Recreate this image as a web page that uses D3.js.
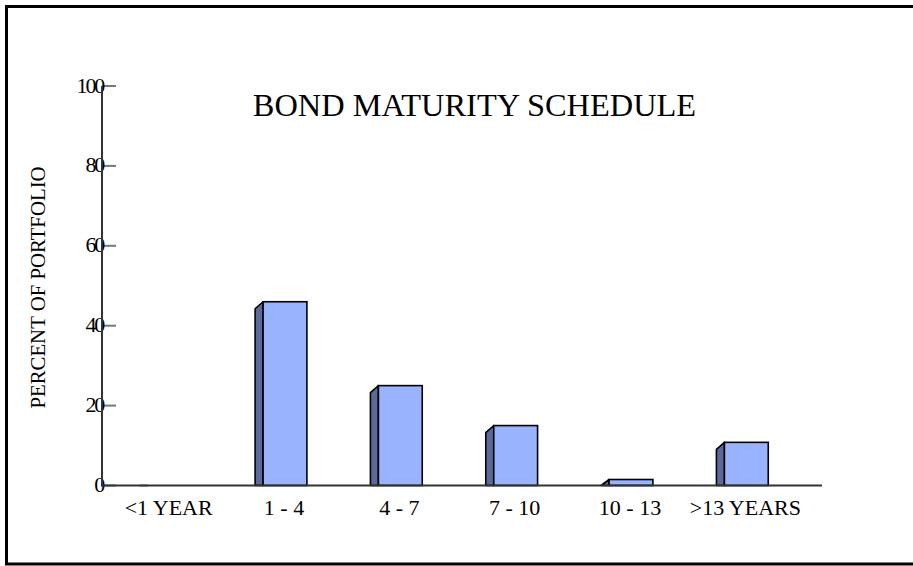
<!DOCTYPE html>
<html>
<head>
<meta charset="utf-8">
<script src="https://cdn.jsdelivr.net/npm/d3@7"></script>
<style>
  html, body { margin: 0; padding: 0; background: #fff; overflow: hidden; }
  svg { display: block; }
</style>
</head>
<body>
<div id="container"></div>
<script>
// chart data
const categories = ['<1 YEAR', '1 - 4', '4 - 7', '7 - 10', '10 - 13', '>13 YEARS'];
const percents = [0, 46, 25, 15, 1.5, 10.8];
const yTicks = [0, 20, 40, 60, 80, 100];

const width = 913;
const height = 566;
const depthX = 8;
const depthY = 7;
const serif = "'Liberation Serif', 'DejaVu Serif', 'Times New Roman', serif";

const svg = d3.select('#container')
              .append('svg')
              .attr('width', width)
              .attr('height', height)
              .style('font-family', serif);

// outer frame (runs off the right edge)
svg.append('path')
   .attr('d', `M${width + 10},6.5 H6.5 V564 H${width + 10}`)
   .attr('fill', 'none')
   .attr('stroke', '#000')
   .attr('stroke-width', 3);

// scales
const xScale = d3.scaleBand()
                 .domain(categories)
                 .range([112, 804])
                 .paddingInner(0.62)
                 .paddingOuter(0.31);

const yScale = d3.scaleLinear()
                 .domain([0, 100])
                 .range([485.5, 86]);

// y ticks
svg.selectAll('.ytick')
   .data(yTicks)
   .enter()
   .append('line')
   .attr('x1', 102)
   .attr('x2', 116)
   .attr('y1', d => yScale(d))
   .attr('y2', d => yScale(d))
   .attr('stroke', '#777')
   .attr('stroke-width', 2);

svg.selectAll('.ylabel')
   .data(yTicks)
   .enter()
   .append('text')
   .attr('x', 103)
   .attr('y', d => yScale(d) + 6.5)
   .attr('text-anchor', 'end')
   .attr('font-family', serif)
   .attr('font-size', 22)
   .style('letter-spacing', '-2.2px')
   .text(d => d);

// bars: left side face then front face
const bars = svg.selectAll('.bar')
                .data(percents)
                .enter()
                .append('g');

bars.append('polygon')
    .attr('points', (d, i) => {
        const x0 = xScale(categories[i]);
        const top = yScale(d);
        const base = yScale(0);
        const sideTop = Math.min(top + depthY, base);
        return [[x0 - depthX, base], [x0 - depthX, sideTop], [x0, top], [x0, base]].join(' ');
    })
    .attr('fill', '#5a6a99')
    .attr('stroke', '#000')
    .attr('stroke-width', 1.6)
    .attr('stroke-linejoin', 'round');

bars.append('rect')
    .attr('x', (d, i) => xScale(categories[i]))
    .attr('y', d => yScale(d))
    .attr('width', xScale.bandwidth())
    .attr('height', d => yScale(0) - yScale(d))
    .attr('fill', '#99b3ff')
    .attr('stroke', '#000')
    .attr('stroke-width', 1.6);

// axes lines
svg.append('line')
   .attr('x1', 102).attr('x2', 102)
   .attr('y1', yScale(100)).attr('y2', yScale(0) + 1)
   .attr('stroke', '#333')
   .attr('stroke-width', 2);

svg.append('line')
   .attr('x1', 101).attr('x2', 822)
   .attr('y1', yScale(0)).attr('y2', yScale(0))
   .attr('stroke', '#333')
   .attr('stroke-width', 2);

// x labels
svg.selectAll('.xlabel')
   .data(categories)
   .enter()
   .append('text')
   .attr('x', d => xScale(d) + xScale.bandwidth() / 2 - 1)
   .attr('y', 515)
   .attr('text-anchor', 'middle')
   .attr('font-family', serif)
   .attr('font-size', 22)
   .text(d => d);

// title
svg.append('text')
   .attr('x', 474.5)
   .attr('y', 116)
   .attr('text-anchor', 'middle')
   .attr('font-family', serif)
   .attr('font-size', 32.4)
   .text('BOND MATURITY SCHEDULE');

// y axis title
svg.append('text')
   .attr('transform', 'translate(45,287.5) rotate(-90)')
   .attr('text-anchor', 'middle')
   .attr('font-family', serif)
   .attr('font-size', 20.8)
   .text('PERCENT OF PORTFOLIO');
</script>
</body>
</html>
